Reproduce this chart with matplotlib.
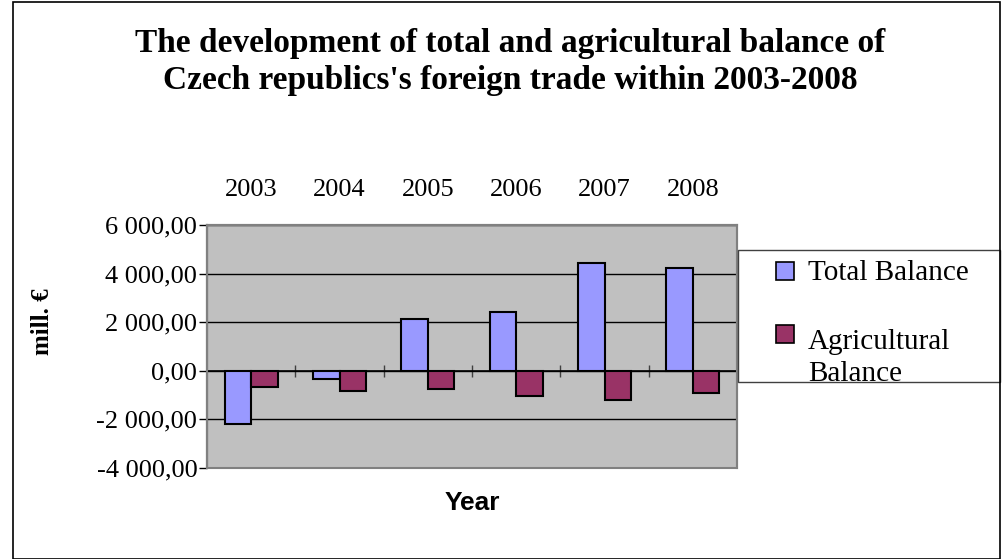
import matplotlib.pyplot as plt
from matplotlib.patches import Rectangle
from matplotlib.ticker import FixedLocator

years = ['2003', '2004', '2005', '2006', '2007', '2008']
total_balance = [-2190, -320, 2120, 2410, 4440, 4250]
agri_balance = [-670, -845, -760, -1030, -1185, -930]
y_ticks = [-4000, -2000, 0, 2000, 4000, 6000]
y_labels = ['-4 000,00', '-2 000,00', '0,00', '2 000,00', '4 000,00', '6 000,00']
series_names = ['Total Balance', 'Agricultural\nBalance']
colors = ['#9999FF', '#993366']

W, H = 1002, 559
serif = 'Liberation Serif'
fig = plt.figure(figsize=(W / 100, H / 100), dpi=100)
ax = fig.add_axes([207 / W, 1 - 468 / H, 530 / W, 243 / H])
ax.set_facecolor('#C0C0C0')

x = list(range(len(years)))
w = 0.3
ax.bar([i - w / 2 for i in x], total_balance, w, color=colors[0],
       edgecolor='black', linewidth=1.5, zorder=3)
ax.bar([i + w / 2 for i in x], agri_balance, w, color=colors[1],
       edgecolor='black', linewidth=1.5, zorder=3)

ax.set_xlim(-0.5, len(years) - 0.5)
ax.set_ylim(-4000, 6000)
ax.set_yticks(y_ticks)
ax.set_yticklabels(y_labels)
ax.yaxis.grid(True, color='black', linewidth=1)
ax.set_axisbelow(True)
ax.tick_params(axis='y', length=6, width=1, color='black', pad=1,
               labelsize=19, labelfontfamily=serif)

# year labels on top, axis line at zero
ax.set_xticks(x)
ax.set_xticklabels(years)
ax.xaxis.set_minor_locator(FixedLocator([i + 0.5 for i in x]))
ax.tick_params(axis='x', which='major', bottom=False, top=False,
               labelbottom=False, labeltop=True, pad=14,
               labelsize=19, labelfontfamily=serif)
ax.tick_params(axis='x', which='minor', direction='inout', length=9,
               width=1, color='#404040')
ax.spines['bottom'].set_position(('data', 0))
ax.spines['bottom'].set_color('black')
ax.spines['bottom'].set_linewidth(1.2)
ax.spines['bottom'].set_zorder(4)
for s in ('top', 'right'):
    ax.spines[s].set_color('#808080')
    ax.spines[s].set_linewidth(1.5)
ax.spines['left'].set_color('black')
ax.spines['left'].set_linewidth(1.5)
ax.add_patch(Rectangle((0, 0), 1, 1, transform=ax.transAxes, fill=False,
                       edgecolor='#808080', linewidth=1.5, zorder=5,
                       clip_on=False))

fig.text(0.509, 1 - 62 / H,
         "The development of total and agricultural balance of\n"
         "Czech republics's foreign trade within 2003-2008",
         ha='center', va='center', family=serif, fontweight='bold',
         fontsize=24, linespacing=1.26)
fig.text(0.042, 1 - 322 / H, 'mill. €', rotation=90, ha='center',
         va='center', family=serif, fontweight='bold', fontsize=18)
fig.text(0.471, 1 - 503 / H, 'Year', ha='center', va='center',
         family='Liberation Sans', fontweight='bold', fontsize=19)

# legend box (text clipped at the bottom like the original)
frame = Rectangle((738 / W, 1 - 382 / H), 262 / W, 132 / H,
                  transform=fig.transFigure, facecolor='white',
                  edgecolor='#404040', linewidth=1)
fig.patches.append(frame)
for k, (name, c) in enumerate(zip(series_names, colors)):
    ytop = [262, 325][k]
    fig.patches.append(Rectangle((776 / W, 1 - (ytop + 18) / H), 18 / W, 18 / H,
                                 transform=fig.transFigure, facecolor=c,
                                 edgecolor='black', linewidth=1.2))
    ycen = [273, 358][k]
    t = fig.text(808 / W, 1 - ycen / H, name, ha='left', va='center',
                 family=serif, fontsize=21, linespacing=1.32)
    t.set_clip_path(frame)

fig.patches.append(Rectangle((13 / W, 0), 987 / W, 1 - 2 / H,
                             transform=fig.transFigure, fill=False,
                             edgecolor='black', linewidth=1.2))

fig.savefig('out.png', dpi=100)
